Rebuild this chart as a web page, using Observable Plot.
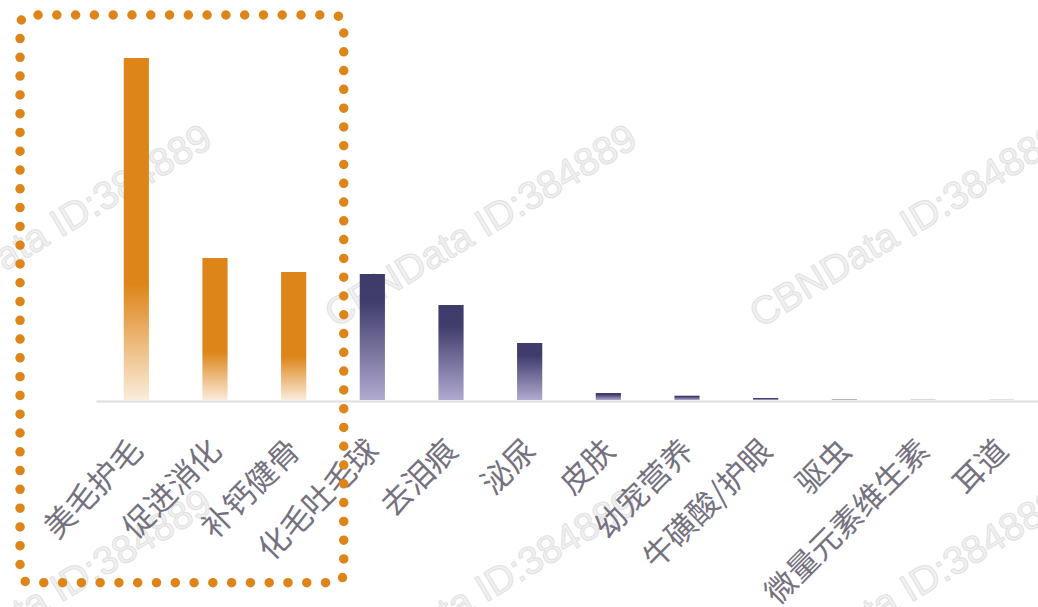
<!DOCTYPE html>
<html>
<head>
<meta charset="utf-8">
<script src="https://cdn.jsdelivr.net/npm/d3@7"></script>
<script src="https://cdn.jsdelivr.net/npm/@observablehq/plot@0.6"></script>
<style>
  html, body { margin: 0; padding: 0; background: #fff; }
  #chart svg { display: block; }
</style>
</head>
<body>
<div id="chart"></div>
<script>
(function () {
// Categories (功效) and relative share values
const categories = ["美毛护毛", "促进消化", "补钙健骨", "化毛吐毛球", "去泪痕", "泌尿", "皮肤", "幼宠营养", "牛磺酸/护眼", "驱虫", "微量元素维生素", "耳道"];
const values = [342, 142, 128, 126, 95, 57, 7, 4.3, 2, 0.4, 0.2, 0.15];
const highlighted = ["美毛护毛", "促进消化", "补钙健骨"];
const watermarkText = "CBNData ID:384889";

const data = categories.map((c, i) => ({cat: c, value: values[i], hi: highlighted.includes(c)}));

const W = 1038, H = 607;
const orange = "#DD8519";

const plot = Plot.plot({
  width: W,
  height: H,
  marginLeft: 97,
  marginRight: -3,
  marginTop: 58,
  marginBottom: 207,
  style: {background: "transparent", fontFamily: "'Noto Sans CJK SC', sans-serif"},
  x: {domain: categories, paddingInner: 0.68, paddingOuter: 0.34, round: false, axis: null},
  y: {domain: [0, 342], axis: null},
  marks: [
    Plot.barY(data.filter(d => d.hi), {x: "cat", y: "value", fill: "url(#gradOrange)"}),
    Plot.barY(data.filter(d => !d.hi), {x: "cat", y: "value", fill: "url(#gradPurple)"}),
    Plot.ruleY([0], {stroke: "#dedede", strokeWidth: 2, dy: 1, dx: -0.5}),
    Plot.text(data, {
      x: "cat", frameAnchor: "bottom", text: "cat",
      dy: 45, dx: 1, rotate: -45, textAnchor: "end", lineAnchor: "middle",
      fontSize: 31, fill: "#75717f"
    })
  ]
});

const svg = d3.select(plot);

// Watermarks (behind everything)
const wm = svg.insert("g", ":first-child").attr("font-family", "'Liberation Sans', Arial, sans-serif")
  .attr("font-size", 39).attr("fill", "#f1f1f1").attr("stroke", "#e1e1e1").attr("stroke-width", 1)
  .attr("text-anchor", "middle").attr("dominant-baseline", "middle");
for (let r = 0; r < 2; r++) {
  for (let c = 0; c < 3; c++) {
    const cx = 57 + 425 * c, cy = 228 + 365 * r;
    wm.append("text").attr("transform", `translate(${cx},${cy}) rotate(-31)`).text(watermarkText);
  }
}

const defs = svg.insert("defs", ":first-child");
const go = defs.append("linearGradient").attr("id", "gradOrange").attr("x1", 0).attr("y1", 0).attr("x2", 0).attr("y2", 1);
go.append("stop").attr("offset", "0").attr("stop-color", orange);
go.append("stop").attr("offset", "0.66").attr("stop-color", orange);
go.append("stop").attr("offset", "1").attr("stop-color", "#FBECDB");
const gp = defs.append("linearGradient").attr("id", "gradPurple").attr("x1", 0).attr("y1", 0).attr("x2", 0).attr("y2", 1);
gp.append("stop").attr("offset", "0").attr("stop-color", "#3F3B6B");
gp.append("stop").attr("offset", "0.22").attr("stop-color", "#403C6C");
gp.append("stop").attr("offset", "1").attr("stop-color", "#B0AAD0");

// Dotted highlight frame around the highlighted categories
const xs = plot.scale("x");
const bw = xs.bandwidth;
const bx0 = xs.apply(highlighted[0]);
const bx2 = xs.apply(highlighted[highlighted.length - 1]) + bw;
const fLeft = bx0 - 103.7, fRight = bx2 + 37.5, fTop = 15, fBottom = 582.7, rx = 10;
const perim = 2 * ((fRight - fLeft - 2 * rx) + (fBottom - fTop - 2 * rx)) + 2 * Math.PI * rx;
const nDots = Math.round(perim / 18.8);
svg.append("rect")
  .attr("x", fLeft).attr("y", fTop).attr("width", fRight - fLeft).attr("height", fBottom - fTop)
  .attr("rx", rx).attr("fill", "none").attr("stroke", orange).attr("stroke-width", 9.5)
  .attr("stroke-linecap", "round").attr("stroke-dasharray", `0 ${perim / nDots}`)
  .attr("stroke-dashoffset", -8);

document.getElementById("chart").appendChild(plot);
})();
</script>
</body>
</html>
